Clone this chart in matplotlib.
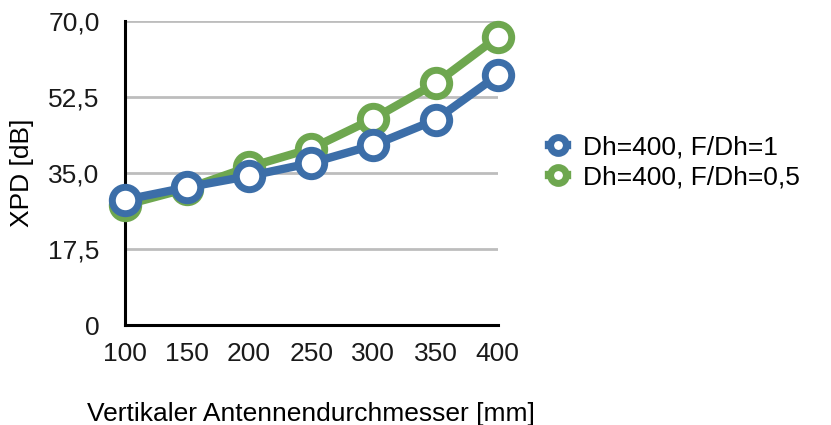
import matplotlib
matplotlib.use("Agg")
import matplotlib.pyplot as plt

plt.rcParams['font.family'] = ['Liberation Sans', 'DejaVu Sans']

# Daten
durchmesser = [100, 150, 200, 250, 300, 350, 400]
xpd_fdh1 = [28.8, 31.7, 34.3, 37.3, 41.4, 47.2, 57.5]
xpd_fdh05 = [27.6, 31.4, 36.4, 40.6, 47.5, 55.6, 66.3]
y_ticks = [0, 17.5, 35.0, 52.5, 70.0]
y_tick_labels = ["0", "17,5", "35,0", "52,5", "70,0"]
serien = ["Dh=400, F/Dh=1", "Dh=400, F/Dh=0,5"]

blau = "#3c6ea8"
gruen = "#6ea74f"

fig = plt.figure(figsize=(8.31, 4.25), dpi=100)
ax = fig.add_axes([0.150, 0.235, 0.449, 0.716])

ax.plot(durchmesser, xpd_fdh05, color=gruen, lw=6, marker='o', ms=19,
        mfc='white', mec=gruen, mew=5, label=serien[1], zorder=3, clip_on=False)
ax.plot(durchmesser, xpd_fdh1, color=blau, lw=6, marker='o', ms=19,
        mfc='white', mec=blau, mew=5, label=serien[0], zorder=4, clip_on=False)

ax.set_xlim(100, 400)
ax.set_ylim(0, 70)
ax.set_xticks(durchmesser)
ax.set_yticks(y_ticks)
ax.set_yticklabels(y_tick_labels)
ax.tick_params(axis='both', length=0, labelsize=19, colors='#1a1a1a')
ax.tick_params(axis='x', pad=12)
ax.tick_params(axis='y', pad=18)

ax.grid(axis='y', color='#bdbdbd', lw=2)
ax.set_axisbelow(True)
for s in ['top', 'right']:
    ax.spines[s].set_visible(False)
ax.spines['left'].set_linewidth(2.2)
ax.spines['bottom'].set_linewidth(2.2)
ax.patch.set_visible(False)

ax.set_ylabel("XPD [dB]", fontsize=19, labelpad=10)
ax.set_xlabel("Vertikaler Antennendurchmesser [mm]", fontsize=19, labelpad=26)

h, l = ax.get_legend_handles_labels()
fig.legend(h[::-1], l[::-1], loc='center left', bbox_to_anchor=(0.632, 0.618),
           frameon=False, fontsize=19, handlelength=0.7, markerscale=0.6,
           handletextpad=0.6, labelspacing=0.25)

fig.savefig("out.png", dpi=100)
